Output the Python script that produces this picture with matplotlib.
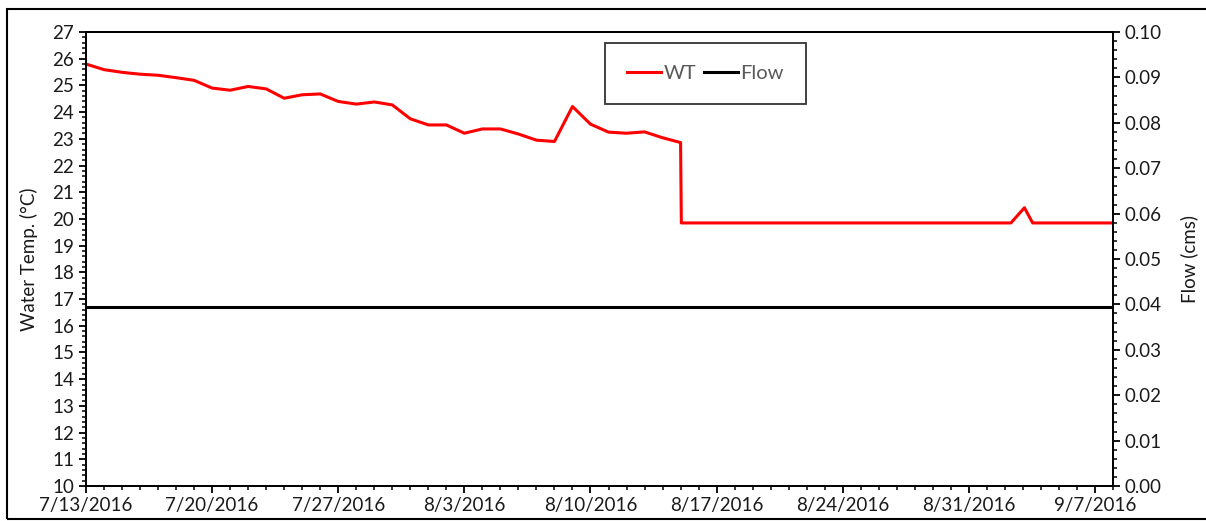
import numpy as np
import pandas as pd
import matplotlib
matplotlib.use('Agg')
import matplotlib.pyplot as plt
import matplotlib.dates as mdates
from matplotlib.ticker import MultipleLocator, FormatStrFormatter, FixedLocator
from matplotlib.patches import Rectangle

plt.rcParams['font.family'] = ['Lato', 'DejaVu Sans']

# Water temperature, daily readings before the drop
wt_daily_dates = pd.date_range('2016-07-13', '2016-08-15', freq='D')
wt_daily = [25.80, 25.59, 25.49, 25.42, 25.38, 25.29, 25.19, 24.90, 24.82,
            24.96, 24.87, 24.52, 24.65, 24.68, 24.40, 24.30, 24.38, 24.27,
            23.75, 23.52, 23.52, 23.21, 23.37, 23.37, 23.18, 22.95, 22.90,
            24.21, 23.55, 23.25, 23.21, 23.26, 23.04, 22.86]

# Water temperature after the drop
wt_late_dates = pd.to_datetime(['2016-08-15 01:00', '2016-09-02 08:00',
                                '2016-09-03 02:00', '2016-09-03 13:00',
                                '2016-09-08 00:00'])
wt_late = [19.85, 19.85, 20.42, 19.85, 19.85]

# Flow
flow_dates = pd.to_datetime(['2016-07-13', '2016-09-08'])
flow = [0.0395, 0.0395]

# x tick labels
tick_dates = pd.date_range('2016-07-13', '2016-09-07', freq='7D')

wt_dates = list(wt_daily_dates) + list(wt_late_dates)
wt = wt_daily + wt_late

fig = plt.figure(figsize=(12.06, 5.21), dpi=100)
ax = fig.add_axes([86 / 1206, 35 / 521, 1027 / 1206, 454 / 521])
ax2 = ax.twinx()

l1, = ax.plot(wt_dates, wt, color='#ff0000', lw=2.2, label='WT')
l2, = ax2.plot(flow_dates, flow, color='black', lw=2.2, label='Flow')

ax.set_xlim(pd.Timestamp('2016-07-13'), pd.Timestamp('2016-09-08'))
ax.set_ylim(10, 27)
ax2.set_ylim(0, 0.10)

ax.xaxis.set_major_locator(FixedLocator(mdates.date2num(tick_dates)))
ax.xaxis.set_minor_locator(mdates.DayLocator())
ax.set_xticklabels([f'{d.month}/{d.day}/{d.year}' for d in tick_dates])

ax.yaxis.set_major_locator(MultipleLocator(1))
ax.yaxis.set_minor_locator(MultipleLocator(0.2))
ax2.yaxis.set_major_locator(MultipleLocator(0.01))
ax2.yaxis.set_minor_locator(MultipleLocator(0.002))
ax2.yaxis.set_major_formatter(FormatStrFormatter('%.2f'))

for a in (ax, ax2):
    a.tick_params(which='major', length=5, width=1.3, labelsize=13.5,
                  color='black', labelcolor='#1a1a1a')
    a.tick_params(which='minor', length=3, width=1.1, color='black')
    for s in a.spines.values():
        s.set_linewidth(1.3)
ax.tick_params(axis='x', pad=3)

ax.set_ylabel('Water Temp. (°C)', fontsize=13.5, color='#1a1a1a', labelpad=10)
ax2.set_ylabel('Flow (cms)', fontsize=13.5, color='#1a1a1a', labelpad=13)

leg = ax.legend(handles=[l1, l2], loc='upper left',
                bbox_to_anchor=((605 - 86) / 1027, (486 - 43) / 454),
                ncol=2, fontsize=14.5, frameon=True, fancybox=False,
                handlelength=1.7, handletextpad=0.1, columnspacing=0.4,
                borderpad=1.1, borderaxespad=0)
leg.get_frame().set_edgecolor('black')
leg.get_frame().set_linewidth(1.3)
for t in leg.get_texts():
    t.set_color('#595959')

fig.patches.append(Rectangle((7 / 1206, 2 / 521), 1.2, 510 / 521,
                             transform=fig.transFigure, fill=False,
                             edgecolor='black', lw=1.5))

fig.savefig('out.png', dpi=100)
